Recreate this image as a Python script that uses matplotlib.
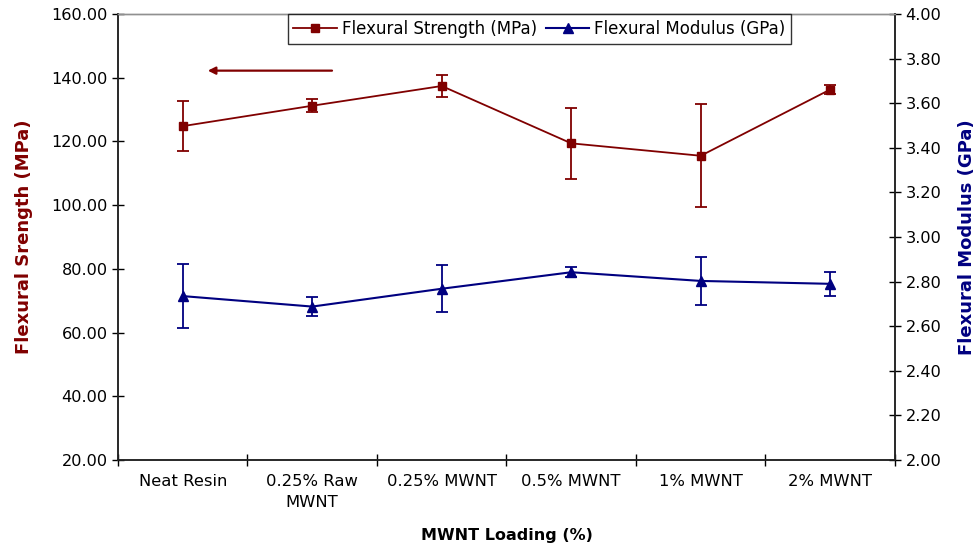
import matplotlib
matplotlib.use("Agg")
import matplotlib.pyplot as plt
from matplotlib.lines import Line2D
import numpy as np

plt.rcParams['font.family'] = ['DejaVu Sans']

categories = ["Neat Resin", "0.25% Raw\nMWNT", "0.25% MWNT", "0.5% MWNT", "1% MWNT", "2% MWNT"]
strength = [124.8, 131.2, 137.4, 119.4, 115.5, 136.3]
strength_err = [7.9, 2.0, 3.3, 11.2, 16.2, 1.5]
modulus = [2.735, 2.688, 2.768, 2.842, 2.803, 2.790]
modulus_err = [0.145, 0.042, 0.105, 0.022, 0.106, 0.055]

red = "#800000"
blue = "#000080"

fig = plt.figure(figsize=(9.79, 5.52), dpi=100)
ax = fig.add_axes([118/979, 1-460/552, (895-118)/979, (460-14)/552])
ax2 = ax.twinx()

x = np.arange(len(categories))

ax.errorbar(x, strength, yerr=strength_err, color=red, marker='s', markersize=6,
            lw=1.3, capsize=4.5, elinewidth=1.3, capthick=1.3)
ax2.errorbar(x, modulus, yerr=modulus_err, color=blue, marker='^', markersize=7.5,
             lw=1.5, capsize=4.5, elinewidth=1.3, capthick=1.3)

ax.set_xlim(-0.5, len(categories) - 0.5)
ax.set_ylim(20, 160)
ax2.set_ylim(2.0, 4.0)
ax.set_yticks(np.arange(20, 161, 20))
ax.set_yticklabels([f"{v:.2f}" for v in np.arange(20, 161, 20)])
ax2.set_yticks(np.arange(2.0, 4.01, 0.2))
ax2.set_yticklabels([f"{v:.2f}" for v in np.arange(2.0, 4.01, 0.2)])

ax.set_xticks(np.arange(-0.5, len(categories), 1.0))
ax.set_xticklabels([])
ax.set_xticks(x, minor=True)
ax.set_xticklabels(categories, minor=True, fontsize=11.8, linespacing=1.5, va='top')
ax.tick_params(axis='x', which='major', direction='inout', length=9, width=1)
ax.tick_params(axis='x', which='minor', length=0, pad=10)

ax.tick_params(axis='y', direction='inout', length=9, width=1, labelsize=11.6, pad=3)
ax2.tick_params(axis='y', direction='inout', length=9, width=1, labelsize=11.6, pad=3)

for a in (ax, ax2):
    for s in ('left', 'right', 'bottom'):
        a.spines[s].set_linewidth(1.1)
        a.spines[s].set_color('#222222')
    a.spines['top'].set_color('#909090')
    a.spines['top'].set_linewidth(1.0)

ax.set_ylabel("Flexural Srength (MPa)", color=red, fontsize=13, fontweight='bold', labelpad=13)
ax2.set_ylabel("Flexural Modulus (GPa)", color=blue, fontsize=13, fontweight='bold', labelpad=12)
ax.set_xlabel("MWNT Loading (%)", fontsize=11.5, fontweight='bold', labelpad=13)

ax.annotate("", xy=(0.112, 0.873), xytext=(0.279, 0.873), xycoords='axes fraction',
            arrowprops=dict(arrowstyle='-|>', color=red, lw=1.6, mutation_scale=11))

handles = [Line2D([], [], color=red, marker='s', markersize=6, lw=1.3),
           Line2D([], [], color=blue, marker='^', markersize=7.5, lw=1.5)]
labels = ["Flexural Strength (MPa)", "Flexural Modulus (GPa)"]
leg = ax2.legend(handles, labels, loc='upper center', bbox_to_anchor=(0.5425, 1.0),
                 ncol=2, fontsize=12, frameon=True, fancybox=False, borderaxespad=0,
                 handlelength=2.6, columnspacing=0.55, handletextpad=0.3, borderpad=0.35)
leg.get_frame().set_edgecolor('black')
leg.get_frame().set_linewidth(1.0)

fig.savefig("out.png", dpi=100)
